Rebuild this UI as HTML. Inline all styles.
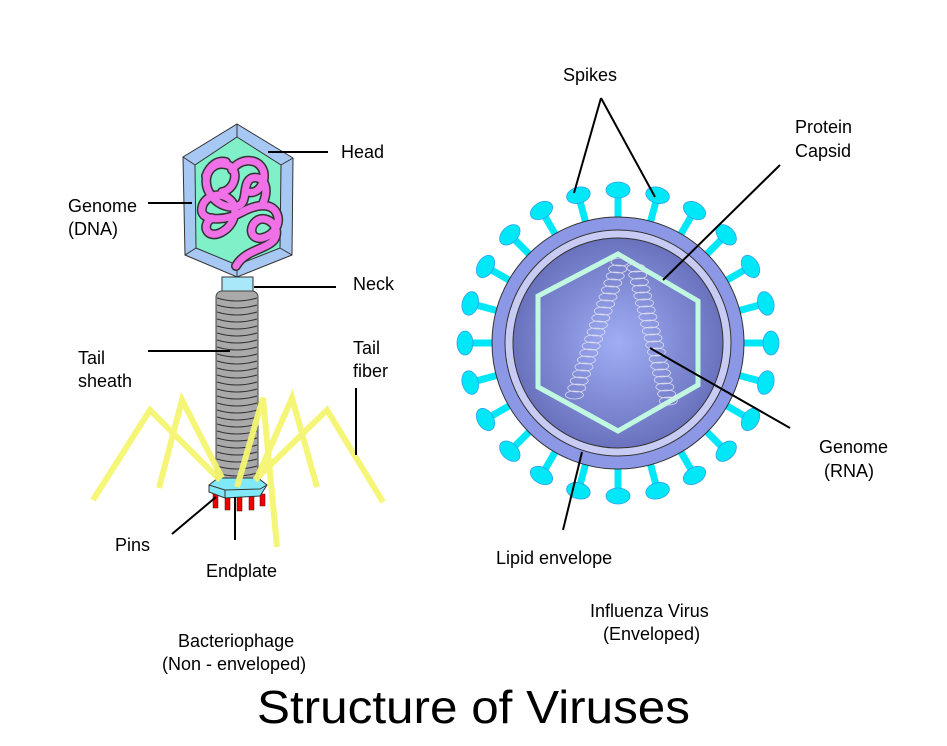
<!DOCTYPE html>
<html><head><meta charset="utf-8"><style>html,body{margin:0;padding:0;background:#fff}svg{display:block}text{font-family:"Liberation Sans",Arial,sans-serif;fill:#000}</style></head>
<body>
<svg width="947" height="746" viewBox="0 0 947 746" xmlns="http://www.w3.org/2000/svg">
<defs>
<radialGradient id="g" cx="0.5" cy="0.5" r="0.5"><stop offset="0" stop-color="#a0aef5"/><stop offset="1" stop-color="#6a72be"/></radialGradient>
<g id="sp"><line x1="618" y1="225" x2="618" y2="194" stroke="#00e8f8" stroke-width="7"/><ellipse cx="618" cy="190" rx="12" ry="8" fill="#00e8f8" stroke="#30a0f0" stroke-width="0.8"/></g>
<ellipse id="c" cx="0" cy="0" rx="9" ry="4" fill="none" stroke="#dde" stroke-width="0.8"/>
</defs>
<!-- Bacteriophage -->
<g stroke="#333" stroke-width="1">
<polygon points="237,124 293,158 292,255 237,277 185,255 183,157" fill="#a8c8f4"/>
<polygon points="237,137 281,165 280,248 237,265 196,248 195,165" fill="#80f0c8"/>
<line x1="237" y1="124" x2="237" y2="137"/><line x1="293" y1="158" x2="281" y2="165"/><line x1="292" y1="255" x2="280" y2="248"/><line x1="237" y1="277" x2="237" y2="265"/><line x1="185" y1="255" x2="196" y2="248"/><line x1="183" y1="157" x2="195" y2="165"/>
</g>
<path id="dna" d="M236,266 C245,250 265,250 274,240 C282,228 268,215 258,220 C248,226 250,240 262,238 C275,235 282,222 276,212 C270,202 255,205 242,212 C228,220 205,222 202,212 C200,200 215,190 228,198 C240,206 235,225 222,232 C208,240 200,226 212,218 M262,205 C270,190 265,175 252,178 C242,182 248,200 240,205 C230,210 215,205 208,190 C202,175 212,160 228,165 C240,170 235,190 222,192 M232,170 C240,158 256,158 262,168 C268,178 260,195 248,192 M206,176 C210,165 218,160 226,162" fill="none" stroke="#333" stroke-width="10" stroke-linecap="round" stroke-linejoin="round"/>
<path d="M236,266 C245,250 265,250 274,240 C282,228 268,215 258,220 C248,226 250,240 262,238 C275,235 282,222 276,212 C270,202 255,205 242,212 C228,220 205,222 202,212 C200,200 215,190 228,198 C240,206 235,225 222,232 C208,240 200,226 212,218 M262,205 C270,190 265,175 252,178 C242,182 248,200 240,205 C230,210 215,205 208,190 C202,175 212,160 228,165 C240,170 235,190 222,192 M232,170 C240,158 256,158 262,168 C268,178 260,195 248,192 M206,176 C210,165 218,160 226,162" fill="none" stroke="#f070e8" stroke-width="7" stroke-linecap="round" stroke-linejoin="round"/>
<rect x="222" y="277" width="31" height="16" fill="#a8e8f8" stroke="#333" stroke-width="1"/>
<rect x="216" y="291" width="42" height="192" rx="6" fill="#a9a9a9" stroke="#444" stroke-width="1"/>
<g stroke="#333" stroke-width="1" fill="none">
<path d="M217,298 q20,6 40,0 M217,305 q20,6 40,0 M217,312 q20,6 40,0 M217,319 q20,6 40,0 M217,326 q20,6 40,0 M217,333 q20,6 40,0 M217,340 q20,6 40,0 M217,347 q20,6 40,0 M217,354 q20,6 40,0 M217,361 q20,6 40,0 M217,368 q20,6 40,0 M217,375 q20,6 40,0 M217,382 q20,6 40,0 M217,389 q20,6 40,0 M217,396 q20,6 40,0 M217,403 q20,6 40,0 M217,410 q20,6 40,0 M217,417 q20,6 40,0 M217,424 q20,6 40,0 M217,431 q20,6 40,0 M217,438 q20,6 40,0 M217,445 q20,6 40,0 M217,452 q20,6 40,0 M217,459 q20,6 40,0 M217,466 q20,6 40,0 M217,473 q20,6 40,0"/>
</g>
<g fill="#e00" stroke="#600" stroke-width="0.5">
<rect x="213" y="494" width="5" height="14"/><rect x="225" y="496" width="5" height="14"/><rect x="237" y="497" width="5" height="14"/><rect x="249" y="496" width="5" height="14"/><rect x="260" y="494" width="5" height="12"/>
</g>
<polygon points="209,485 218,478 258,478 267,485 260,496 225,498 209,492" fill="#80e8f8" stroke="#333" stroke-width="1"/>
<polyline points="209,485 225,490 260,489 267,485" fill="none" stroke="#333" stroke-width="1"/>
<line x1="225" y1="490" x2="225" y2="498" stroke="#333"/>
<g fill="none" stroke="#f5f570" stroke-width="6" stroke-linejoin="miter" opacity="0.95">
<polyline points="93,500 150,410 220,480"/>
<polyline points="159,488 182,400 222,478"/>
<polyline points="277,547 263,398 237,487"/>
<polyline points="317,487 292,398 257,478"/>
<polyline points="383,502 327,410 255,480"/>
</g>
<!-- Influenza -->
<use href="#sp"/>
<use href="#sp" transform="rotate(15 618 343)"/><use href="#sp" transform="rotate(30 618 343)"/><use href="#sp" transform="rotate(45 618 343)"/><use href="#sp" transform="rotate(60 618 343)"/><use href="#sp" transform="rotate(75 618 343)"/><use href="#sp" transform="rotate(90 618 343)"/><use href="#sp" transform="rotate(105 618 343)"/><use href="#sp" transform="rotate(120 618 343)"/><use href="#sp" transform="rotate(135 618 343)"/><use href="#sp" transform="rotate(150 618 343)"/><use href="#sp" transform="rotate(165 618 343)"/><use href="#sp" transform="rotate(180 618 343)"/><use href="#sp" transform="rotate(195 618 343)"/><use href="#sp" transform="rotate(210 618 343)"/><use href="#sp" transform="rotate(225 618 343)"/><use href="#sp" transform="rotate(240 618 343)"/><use href="#sp" transform="rotate(255 618 343)"/><use href="#sp" transform="rotate(270 618 343)"/><use href="#sp" transform="rotate(285 618 343)"/><use href="#sp" transform="rotate(300 618 343)"/><use href="#sp" transform="rotate(315 618 343)"/><use href="#sp" transform="rotate(330 618 343)"/><use href="#sp" transform="rotate(345 618 343)"/>
<circle cx="618" cy="343" r="126" fill="#8c98e6" stroke="#333" stroke-width="1"/>
<circle cx="618" cy="343" r="113" fill="#c8ccf4" stroke="#333" stroke-width="1"/>
<circle cx="618" cy="343" r="105" fill="url(#g)" stroke="#333" stroke-width="1"/>
<polygon points="618,254 698,301 698,385 618,431 538,387 538,296" fill="none" stroke="#c0f8e0" stroke-width="5"/>
<g transform="translate(620,262)">
<use href="#c"/><use href="#c" x="-2.4" y="7"/><use href="#c" x="-4.8" y="14"/><use href="#c" x="-7.2" y="21"/><use href="#c" x="-9.6" y="28"/><use href="#c" x="-12" y="35"/><use href="#c" x="-14.4" y="42"/><use href="#c" x="-16.8" y="49"/><use href="#c" x="-19.2" y="56"/><use href="#c" x="-21.6" y="63"/><use href="#c" x="-24" y="70"/><use href="#c" x="-26.4" y="77"/><use href="#c" x="-28.8" y="84"/><use href="#c" x="-31.2" y="91"/><use href="#c" x="-33.6" y="98"/><use href="#c" x="-36" y="105"/><use href="#c" x="-38.4" y="112"/><use href="#c" x="-40.8" y="119"/><use href="#c" x="-43.2" y="126"/><use href="#c" x="-45.6" y="133"/>
</g>
<g transform="translate(636,268)">
<use href="#c"/><use href="#c" x="1.7" y="7"/><use href="#c" x="3.4" y="14"/><use href="#c" x="5.1" y="21"/><use href="#c" x="6.8" y="28"/><use href="#c" x="8.5" y="35"/><use href="#c" x="10.2" y="42"/><use href="#c" x="11.9" y="49"/><use href="#c" x="13.6" y="56"/><use href="#c" x="15.3" y="63"/><use href="#c" x="17" y="70"/><use href="#c" x="18.7" y="77"/><use href="#c" x="20.4" y="84"/><use href="#c" x="22.1" y="91"/><use href="#c" x="23.8" y="98"/><use href="#c" x="25.5" y="105"/><use href="#c" x="27.2" y="112"/><use href="#c" x="28.9" y="119"/><use href="#c" x="30.6" y="126"/><use href="#c" x="32.3" y="133"/>
</g>
<!-- leader lines -->
<g stroke="#000" stroke-width="2" fill="none">
<line x1="268" y1="152" x2="328" y2="152"/>
<line x1="148" y1="203" x2="192" y2="203"/>
<line x1="254" y1="287" x2="336" y2="287"/>
<line x1="148" y1="351" x2="230" y2="351"/>
<line x1="356" y1="388" x2="356" y2="455"/>
<line x1="172" y1="534" x2="216" y2="497"/>
<line x1="235" y1="497" x2="235" y2="540"/>
<line x1="601" y1="98" x2="574" y2="193"/>
<line x1="601" y1="98" x2="655" y2="197"/>
<line x1="780" y1="165" x2="663" y2="280"/>
<line x1="790" y1="428" x2="650" y2="348"/>
<line x1="582" y1="452" x2="563" y2="530"/>
</g>
<!-- text -->
<g font-size="18">
<text x="341" y="158">Head</text>
<text x="68" y="212">Genome</text><text x="68" y="235">(DNA)</text>
<text x="353" y="290">Neck</text>
<text x="78" y="364">Tail</text><text x="78" y="387">sheath</text>
<text x="353" y="354">Tail</text><text x="353" y="377">fiber</text>
<text x="115" y="551">Pins</text>
<text x="206" y="577">Endplate</text>
<text x="563" y="81">Spikes</text>
<text x="795" y="133">Protein</text><text x="795" y="157">Capsid</text>
<text x="819" y="453">Genome</text><text x="824" y="477">(RNA)</text>
<text x="496" y="564">Lipid envelope</text>
<text x="590" y="617">Influenza Virus</text><text x="603" y="640">(Enveloped)</text>
<text x="178" y="647">Bacteriophage</text><text x="162" y="670">(Non - enveloped)</text>
</g>
<text x="257" y="723" font-size="46" textLength="433" lengthAdjust="spacingAndGlyphs">Structure of Viruses</text>
</svg>
</body></html>
